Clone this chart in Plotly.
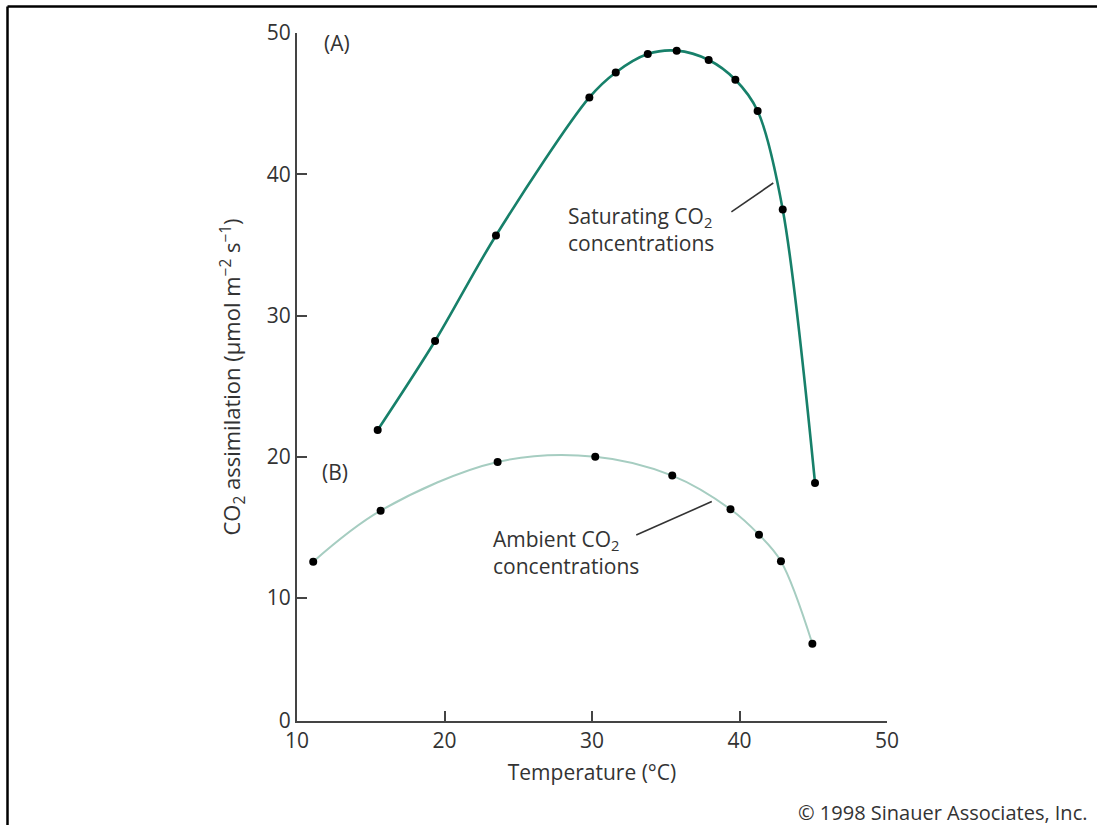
import plotly.graph_objects as go

# ---- data ----
sat_temp = [15.47, 19.36, 23.49, 29.82, 31.61, 33.78, 35.74, 37.91, 39.72, 41.23, 42.93, 45.12]
sat_co2 = [21.9, 28.2, 35.67, 45.44, 47.21, 48.51, 48.75, 48.09, 46.69, 44.48, 37.51, 18.15]

amb_temp = [11.1, 15.67, 23.6, 30.22, 35.44, 39.39, 41.32, 42.81, 44.94]
amb_co2 = [12.58, 16.19, 19.64, 20.01, 18.67, 16.29, 14.49, 12.61, 6.77]

x_ticks = [10, 20, 30, 40, 50]
y_ticks = [10, 20, 30, 40, 50]
y_base = 1.3  # x-axis drawn slightly above zero in the original; labelled "0"

# ---- layout geometry (pixels) ----
W, H = 1097, 825
ML, MR, MT, MB = 297, 210, 33, 104
PW, PH = W - ML - MR, H - MT - MB

def px(x):
    return (x - ML) / PW

def py(y):
    return (H - MB - y) / PH

FONT = "Open Sans, Noto Sans, DejaVu Sans, sans-serif"
TXT = "#333333"
SAT_COLOR = "#17806a"
AMB_COLOR = "#a6cdc1"

fig = go.Figure()

fig.add_trace(go.Scatter(
    x=amb_temp, y=amb_co2, mode="lines",
    line=dict(color=AMB_COLOR, width=2, shape="spline", smoothing=1.0),
    hoverinfo="skip", showlegend=False))
fig.add_trace(go.Scatter(
    x=sat_temp, y=sat_co2, mode="lines",
    line=dict(color=SAT_COLOR, width=2.6, shape="spline", smoothing=0.9),
    hoverinfo="skip", showlegend=False))
fig.add_trace(go.Scatter(
    x=amb_temp, y=amb_co2, mode="markers",
    marker=dict(color="black", size=8), name="Ambient CO2", showlegend=False))
fig.add_trace(go.Scatter(
    x=sat_temp, y=sat_co2, mode="markers",
    marker=dict(color="black", size=8), name="Saturating CO2", showlegend=False))

fig.update_layout(
    width=W, height=H,
    margin=dict(l=ML, r=MR, t=MT, b=MB, pad=0),
    paper_bgcolor="white", plot_bgcolor="white",
    font=dict(family=FONT, size=21, color=TXT),
    xaxis=dict(
        range=[10, 50], tickvals=x_ticks, ticks="inside", ticklen=10, tickwidth=1.5,
        tickcolor="#444", showline=True, linecolor="#444", linewidth=2,
        showgrid=False, zeroline=False, tickfont=dict(size=21, color=TXT),
        title=dict(text="Temperature (°C)", font=dict(size=21, color=TXT), standoff=12),
    ),
    yaxis=dict(
        range=[y_base, 50], tickvals=[y_base] + y_ticks,
        ticktext=["0"] + [str(v) for v in y_ticks],
        ticks="inside", ticklen=10, tickwidth=1.5,
        tickcolor="#444", showline=True, linecolor="#444", linewidth=2,
        showgrid=False, zeroline=False, tickfont=dict(size=21, color=TXT),
        title=dict(text="CO<sub>2</sub> assimilation (μmol m<sup>−2</sup> s<sup>−1</sup>)",
                   font=dict(size=22, color=TXT), standoff=20),
    ),
)

# frame lines (top and left)
fig.add_shape(type="line", xref="paper", yref="paper",
              x0=px(7.5), x1=px(W), y0=py(6.5), y1=py(6.5),
              line=dict(color="black", width=2.5))
fig.add_shape(type="line", xref="paper", yref="paper",
              x0=px(7.5), x1=px(7.5), y0=py(6.5), y1=py(H),
              line=dict(color="black", width=2.5))

# leader lines
fig.add_shape(type="line", x0=39.45, y0=37.34, x1=42.29, y1=39.38,
              line=dict(color="#333", width=1.6))
fig.add_shape(type="line", x0=33.0, y0=14.47, x1=38.12, y1=16.83,
              line=dict(color="#333", width=1.6))

ann = [
    dict(x=12.69, y=49.29, text="(A)", xanchor="center", yanchor="middle"),
    dict(x=12.58, y=18.95, text="(B)", xanchor="center", yanchor="middle"),
    dict(x=28.25, y=36.07, text="Saturating CO<sub>2</sub><br>concentrations",
         xanchor="left", yanchor="middle", align="left"),
    dict(x=23.15, y=13.23, text="Ambient CO<sub>2</sub><br>concentrations",
         xanchor="left", yanchor="middle", align="left"),
]
for a in ann:
    fig.add_annotation(showarrow=False, font=dict(size=21, color=TXT), **a)

fig.add_annotation(xref="paper", yref="paper", x=px(1089), y=py(812),
                   text="© 1998 Sinauer Associates, Inc.", showarrow=False,
                   xanchor="right", yanchor="middle",
                   font=dict(size=20, color=TXT))

fig.write_html("out.html")
